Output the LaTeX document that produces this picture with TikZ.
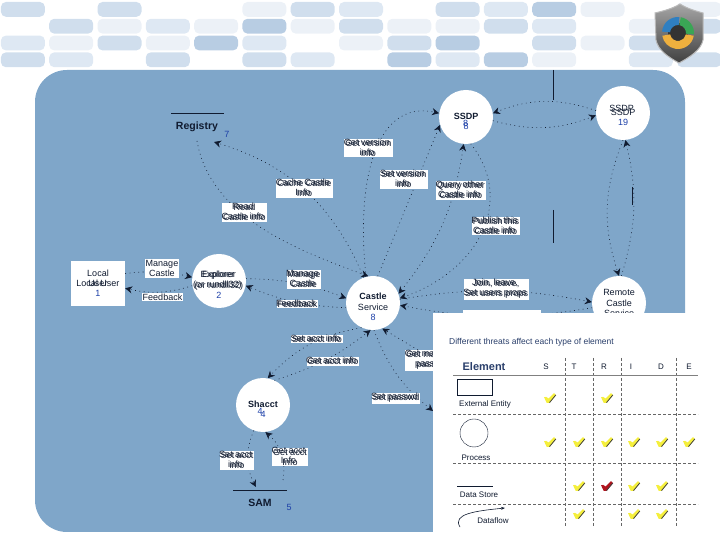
\documentclass[tikz,border=0pt]{standalone}
\usepackage{fontspec}
\setmainfont{Liberation Sans}
\usepackage{tikz}
\usetikzlibrary{arrows.meta,calc}
\definecolor{panel}{HTML}{7FA6C9}
\definecolor{pilla}{HTML}{B8CDE3}
\definecolor{pillb}{HTML}{D0DEED}
\definecolor{pillc}{HTML}{DEE8F3}
\definecolor{pilld}{HTML}{ECF1F7}
\definecolor{numblue}{HTML}{1C3FA8}
\definecolor{inkblue}{HTML}{101B30}
\definecolor{headblue}{HTML}{2A3F6B}
\definecolor{chkyellow}{HTML}{F5EF3C}
\definecolor{chkred}{HTML}{B0141E}
\definecolor{ringblue}{HTML}{2F7FC1}
\definecolor{ringgreen}{HTML}{3AA655}
\definecolor{ringorange}{HTML}{EFB03E}
\newcommand{\labfont}{\fontsize{9}{10}\selectfont}
\newcommand{\tabfont}{\fontsize{8}{9}\selectfont}
\newcommand{\storefont}{\fontsize{10.5}{12}\bfseries\selectfont}
\newcommand{\lowline}{\rule{0pt}{15pt}}

\begin{document}
\begin{tikzpicture}[
    x=1pt,y=1pt,
    every node/.style={text=inkblue},
    lab/.style={fill=white,inner sep=1pt,align=center,font=\labfont},
    ghost/.style={inner sep=0pt,align=center,font=\labfont,xshift=-1.5pt,yshift=1.2pt},
    process/.style={circle,fill=white,minimum size=54pt,inner sep=-8pt,align=center,font=\fontsize{9}{10.5}\selectfont},
    entity/.style={fill=white,minimum width=54pt,minimum height=45pt,inner sep=0pt,align=center,font=\labfont},
    store/.style={font=\storefont,inner sep=0pt},
    num/.style={font=\labfont,text=numblue,inner sep=0pt},
    storeline/.style={line width=0.7pt,inkblue},
    flow/.style={-{Stealth[length=7pt,width=7pt]},inkblue,line width=0.6pt,dash pattern=on 0.8pt off 3.6pt},
    both/.style={flow,{Stealth[length=7pt,width=7pt]}-{Stealth[length=7pt,width=7pt]}},
    boundary/.style={inkblue,line width=0.6pt},
    pill/.style={rounded corners=5pt},
    tabtext/.style={font=\tabfont,inner sep=0pt},
    tabhead/.style={font=\tabfont,inner sep=0pt},
    tabline/.style={gray!80!black,line width=0.5pt,densely dashed},
    pics/chk/.style={code={
        \fill[fill=#1] (-6,0.8) .. controls (-4.5,1.8) and (-3,1) .. (-1.5,-0.5) -- (4,5) -- (6,2.8) -- (-0.5,-5) -- (-3.2,-5) -- cycle;
        \draw[black!75,line width=0.8pt] (-0.5,-4.6) -- (5.8,3);
    }}
]
\useasboundingbox (0,0) rectangle (720,540);

% header pattern
\foreach \col/\row/\tone in {0/0/pillb,2/0/pillb,5/0/pilld,6/0/pillb,7/0/pillc,9/0/pillb,10/0/pillc,11/0/pilla,12/0/pilld,14/0/pilld,
    1/1/pillb,2/1/pilld,3/1/pillc,4/1/pilld,5/1/pilla,6/1/pilld,7/1/pillb,8/1/pilld,9/1/pilld,10/1/pillb,11/1/pillc,13/1/pilld,14/1/pillb,
    0/2/pillc,1/2/pilld,2/2/pillb,3/2/pilld,4/2/pilla,5/2/pillc,7/2/pilld,8/2/pillb,9/2/pilla,11/2/pillb,12/2/pilld,13/2/pillb,
    0/3/pillb,1/3/pillc,3/3/pillb,5/3/pillb,6/3/pillc,8/3/pilla,9/3/pillc,10/3/pilla,11/3/pilld,13/3/pillc,14/3/pillb}
    \fill[pill,\tone] ({0.9+48.3*\col},{538-16.8*\row}) rectangle ++(44,-14.8);

% main panel
\fill[panel,rounded corners=32pt] (35,8) rectangle (685,470);

% elements
\node[store] (registry) at (197,413) {Registry};
\node[num] (num7) at (227,406) {7};
\draw[storeline] (171,427) -- (224,427);
\node[store] (sam) at (260,37) {SAM};
\node[num] (num5) at (289,33) {5};
\draw[storeline] (233,50) -- (287,50);
\node[entity,label={[ghost,xshift=1.5pt,yshift=-1.2pt]center:Local User}] (localuser) at (98,256.5) {Local\\User\\{\color{numblue}1}};
\node[process,label={[ghost]center:Explorer\\(or rundll32)}] (explorer) at (219,259) {\lowline Explorer\\(or rundll32)\\{\color{numblue}2}};
\node[process] (castle) at (373,237) {\lowline\textbf{Castle}\\Service\\{\color{numblue}8}};
\node[process,label={[ghost,xshift=1pt,yshift=-8pt]center:{\color{numblue}8}}] (ssdp) at (466,423) {\lowline\textbf{SSDP}\\{\color{numblue}8}};
\node[process,label={[ghost,yshift=3pt]center:SSDP}] (ssdpb) at (623,427) {\lowline SSDP\\{\color{numblue}19}};
\node[process] (remote) at (619,237) {Remote\\Castle\\Service};
\node[process,label={[ghost,xshift=-1.5pt,yshift=-8pt]center:{\color{numblue}4}}] (shacct) at (263,135) {\lowline\textbf{Shacct}\\{\color{numblue}4}};

\coordinate (regin) at (214,398);
\coordinate (regout) at (197,399);
\coordinate (samin) at (256,53);
\coordinate (samout) at (283,60);
\coordinate (hidA) at (433,129);
\coordinate (hidB) at (433,181);

% data flows
\draw[flow] (castle.110) to[bend right=25] (regin);
\draw[flow] (regout) to[out=-80,in=160,looseness=0.9] (castle.100);
\draw[flow] (castle.105) .. controls (355,370) and (380,440) .. (ssdp.172);
\draw[flow] (castle.80) -- (ssdp.197);
\draw[both] (castle.20) to[bend right=15] (ssdp.-95);
\draw[flow] (ssdp.-80) .. controls (515,340) and (480,270) .. (castle.10);
\draw[flow] (castle.8) to[bend left=10] (remote.178);
\draw[flow] (remote.190) to[bend left=10] (castle.-5);
\draw[flow] (ssdpb.175) to[bend right=20] (ssdp.8);
\draw[flow] (ssdp.-8) to[bend right=18] (ssdpb.185);
\draw[flow] (ssdpb.-90) to[bend right=20] (remote.90);
\draw[flow] (remote.85) to[bend right=15] (ssdpb.-85);
\draw[flow] (explorer.5) to[bend left=10] (castle.170);
\draw[flow] (castle.190) to[bend left=10] (explorer.-10);
\draw[flow] (localuser.20) to[bend left=10] (explorer.172);
\draw[flow] (explorer.190) to[bend left=15] (localuser.-10);
\draw[flow] (castle.-115) to[bend right=18] (shacct.80);
\draw[flow] (shacct.65) to[bend right=10] (castle.-95);
\draw[flow] (shacct.-110) to[bend right=25] (samin);
\draw[flow] (samout) to[bend right=30] (shacct.-85);
\draw[flow] (castle.-88) to[bend right=15] (hidA);
\draw[flow] (hidB) -- (castle.-70);

% trust boundaries
\draw[boundary,dash pattern=on 30pt off 110pt on 33pt] (553,470) -- (553,297);
\draw[boundary,line width=1pt] (632,353) -- (632,335);

% flow labels
\node[lab] (mana) at (162,271.5) {Manage\\Castle};
\node[lab] (feeda) at (162.5,243) {Feedback};
\node[lab,label={[ghost]center:Manage\\Castle}] (manb) at (304,260.5) {Manage\\Castle};
\node[lab,label={[ghost]center:Feedback}] (feedb) at (297.5,236) {Feedback};
\node[lab,label={[ghost]center:Read\\Castle info}] (readinfo) at (244.5,327.5) {Read\\Castle info};
\node[lab,label={[ghost]center:Cache Castle\\Info}] (cacheinfo) at (304.5,351.5) {Cache Castle\\Info};
\node[lab,label={[ghost]center:Get version\\info}] (getver) at (368.5,392) {Get version\\info};
\node[lab,label={[ghost]center:Set version\\info}] (setver) at (404,360.5) {Set version\\info};
\node[lab,label={[ghost]center:Query other\\Castle info}] (query) at (461,349.5) {Query other\\Castle info};
\node[lab,label={[ghost]center:Publish this\\Castle info}] (publish) at (496,314) {Publish this\\Castle info};
\node[lab,label={[ghost]center:{Join, leave,\\Set users props}}] (join) at (496.5,250.5) {Join, leave,\\Set users props};
\node[lab,minimum width=78pt,minimum height=20pt] (hidlab) at (502,220) {};
\node[lab,label={[ghost]center:Set acct info}] (setacct) at (317,201) {Set acct info};
\node[lab,label={[ghost]center:Get acct info}] (getacct) at (333,178.5) {Get acct info};
\node[lab,label={[ghost]center:Get machine\\passwd}] (getmach) at (432,179.5) {Get machine\\passwd};
\node[lab,label={[ghost]center:Set passwd}] (setpass) at (396,141.5) {Set passwd};
\node[lab,label={[ghost]center:Set acct\\info}] (setinfo) at (237,79.5) {Set acct\\info};
\node[lab,label={[ghost]center:Get acct\\Info}] (getinfo) at (290,83) {Get acct\\Info};

% threat table
\fill[white] (433,0) rectangle (720,227);
\node[anchor=west,inner sep=0pt,font=\fontsize{8.5}{10}\selectfont,text=headblue] (tabtitle) at (449,198) {Different threats affect each type of element};
\node[font=\fontsize{11}{12}\bfseries\selectfont,text=headblue,inner sep=0pt] (tabelem) at (484,173) {Element};
\foreach \x/\t in {546/S,574/T,604/R,631/I,661/D,689/E}
    \node[tabhead] (head\t) at (\x,173) {\t};
\foreach \x in {565,593,621,676}
    \draw[tabline] (\x,182) -- (\x,13);
\draw[gray,line width=0.6pt] (453,165) -- (698,165);
\foreach \y in {126,77,36}
    \draw[tabline] (453,\y) -- (698,\y);

\node[draw=inkblue,minimum width=35pt,minimum height=16pt,inner sep=0pt] (legext) at (474.5,153) {};
\node[tabtext] (legexttxt) at (485,136) {External Entity};
\node[draw=inkblue,circle,minimum size=28pt,inner sep=0pt] (legproc) at (474,107) {};
\node[tabtext] (legproctxt) at (476,82) {Process};
\draw[storeline] (457,54) -- (493,54);
\node[tabtext] (legstoretxt) at (479,45) {Data Store};
\coordinate (dfstart) at (460,13);
\coordinate (dfend) at (505,32);
\draw[inkblue,line width=0.6pt,-{Stealth[length=4pt,width=3pt]}] (dfstart) .. controls (452,26) and (475,29) .. (dfend);
\node[tabtext] (legflowtxt) at (493,19) {Dataflow};

\foreach \x/\y/\c in {550/142/chkyellow,607/142/chkyellow,
    550/98/chkyellow,579/98/chkyellow,607/98/chkyellow,634/98/chkyellow,662/98/chkyellow,689/98/chkyellow,
    579/54/chkyellow,607/54/chkred,634/54/chkyellow,662/54/chkyellow,
    579/26/chkyellow,634/26/chkyellow,662/26/chkyellow}
    \pic at (\x,\y) {chk=\c};

% shield
\draw[gray!55,line width=1pt,top color=gray!70,bottom color=black!75]
    (680,536) .. controls (672,531) and (663,529) .. (655,527) -- (656,500) .. controls (658,490) and (668,483) .. (679,477)
    .. controls (690,483) and (701,490) .. (703,500) -- (703,527) .. controls (696,529) and (688,531) .. (680,536) -- cycle;
\fill[black!80] (678,507) circle (10);
\foreach \a/\b/\c in {175/85/ringblue,80/-5/ringgreen,-10/-170/ringorange}
    \fill[\c] ([shift={(678,507)}]\a:16) arc (\a:\b:16) -- ([shift={(678,507)}]\b:8) arc (\b:\a:8) -- cycle;
\end{tikzpicture}
\end{document}
